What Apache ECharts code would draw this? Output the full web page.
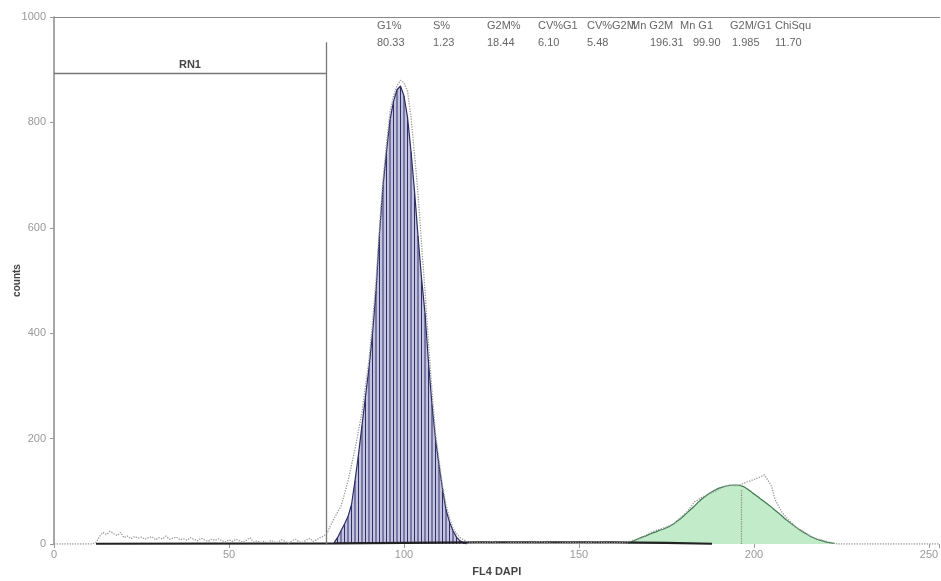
<!DOCTYPE html>
<html>
<head>
<meta charset="utf-8">
<script src="https://cdn.jsdelivr.net/npm/echarts@6/dist/echarts.min.js"></script>
<style>
  html, body { margin: 0; padding: 0; background: #fff; }
  #chart { width: 941px; height: 581px; }
</style>
</head>
<body>
<div id="chart"></div>
<script>
// ---- Data: DNA content histogram (FL4 DAPI), cell-cycle model fit ----
const xTicks = [0, 50, 100, 150, 200, 250];
const yTicks = [0, 200, 400, 600, 800, 1000];

// G1 peak fit, one value per channel starting at channel 80
const g1Start = 80;
const g1Fit = [2, 12, 25, 38, 52, 75, 120, 170, 225, 280, 335, 400, 480, 590, 680, 745,
  805, 840, 862, 869, 850, 810, 745, 670, 585, 505, 438, 345, 265, 200, 150, 105,
  65, 42, 25, 13, 6, 2, 0];

// G2/M peak fit, one value per channel starting at channel 164
const g2Start = 164;
const g2Fit = [2, 4, 7, 10, 13, 15, 18, 21, 23, 26, 28, 31, 34, 38, 43, 48, 54, 60, 66, 72,
  79, 85, 90, 95, 99, 103, 106, 108, 110, 111, 112, 112, 111, 109, 105, 100, 95, 90, 85, 80,
  75, 70, 64, 59, 53, 47, 42, 37, 32, 27, 23, 19, 15, 12, 9, 7, 5, 3, 2, 1];

// S-phase component near the baseline [channel, count]
const sPhase = [[12, 0.5], [80, 1], [100, 2], [120, 3], [140, 3], [160, 3], [175, 2], [188, 0.5]];

// Raw histogram [channel, count]
const rawCounts = [[0, 0], [11, 0], [12, 3], [13, 14], [14, 22], [15, 18], [16, 24], [17, 20], [18, 16],
  [19, 22], [20, 12], [21, 15], [22, 10], [23, 14], [24, 11], [25, 13], [26, 9], [27, 12], [28, 14],
  [29, 8], [30, 12], [31, 10], [32, 15], [33, 9], [34, 11], [35, 13], [36, 8], [37, 10], [38, 7],
  [39, 12], [40, 9], [41, 6], [42, 11], [43, 8], [44, 5], [45, 9], [46, 7], [47, 10], [48, 6],
  [49, 4], [50, 8], [51, 5], [52, 9], [53, 6], [54, 3], [55, 7], [56, 12], [57, 4], [58, 6],
  [59, 3], [60, 5], [61, 2], [62, 7], [63, 4], [64, 3], [65, 8], [66, 5], [67, 2], [68, 6],
  [69, 9], [70, 4], [71, 3], [72, 7], [73, 11], [74, 5], [75, 8], [76, 12], [77, 15], [78, 20],
  [79, 35], [80, 48], [81, 60], [82, 72], [83, 95], [84, 120], [85, 150], [86, 180], [87, 215],
  [88, 250], [89, 300], [90, 350], [91, 420], [92, 500], [93, 600], [94, 690], [95, 760],
  [96, 820], [97, 850], [98, 870], [99, 880], [100, 875], [101, 860], [102, 810], [103, 740],
  [104, 665], [105, 570], [106, 480], [107, 380], [108, 290], [109, 210], [110, 160], [111, 110],
  [112, 75], [113, 50], [114, 30], [115, 20], [116, 12], [117, 8], [118, 5], [119, 3], [120, 4],
  [122, 2], [125, 4], [128, 1], [131, 3], [135, 2], [139, 4], [143, 1], [147, 3], [151, 2],
  [155, 4], [159, 2], [162, 3], [164, 4], [166, 8], [168, 12], [170, 20], [171, 23], [173, 28],
  [175, 32], [177, 38], [179, 50], [181, 62], [183, 80], [185, 88], [187, 95], [189, 100],
  [191, 108], [193, 112], [195, 110], [197, 115], [199, 120], [201, 125], [203, 131], [205, 110],
  [206, 85], [207, 72], [208, 60], [210, 45], [212, 32], [214, 24], [216, 15], [218, 10],
  [220, 6], [222, 3], [224, 0], [253, 0]];

// Region gate RN1: x range and drawing heights
const gateName = 'RN1';
const gateRange = [0, 77.7];
const gateLevel = 894;
const gateTop = 952;

// Model statistics
const statHeaders = ['G1%', 'S%', 'G2M%', 'CV%G1', 'CV%G2M', 'Mn G2M', 'Mn G1', 'G2M/G1', 'ChiSqu'];
const statValues = ['80.33', '1.23', '18.44', '6.10', '5.48', '196.31', '99.90', '1.985', '11.70'];
const g2MeanHeight = 102;

// ---- Layout ----
const headerX = [377, 433, 487, 538, 587, 631, 680, 730, 775];
const valueX = [377, 433, 487, 538, 587, 650, 693, 732, 775];
const FONT = '"Liberation Sans", Arial, sans-serif';

const toPairs = (start, arr) => arr.map((v, i) => [start + i, v]);
const g1Data = toPairs(g1Start, g1Fit);
const g2Data = toPairs(g2Start, g2Fit);
const g2Mean = parseFloat(statValues[statHeaders.indexOf('Mn G2M')]);

const statTexts = [];
statHeaders.forEach((h, i) => {
  statTexts.push({ type: 'text', left: headerX[i], top: 20,
    style: { text: h, fill: '#666', font: '11px ' + FONT } });
  statTexts.push({ type: 'text', left: valueX[i], top: 37,
    style: { text: statValues[i], fill: '#666', font: '11px ' + FONT } });
});

const chart = echarts.init(document.getElementById('chart'));
chart.setOption({
  animation: false,
  backgroundColor: '#fff',
  grid: { left: 54, top: 17, right: 1.5, bottom: 37, containLabel: false, outerBoundsMode: 'none' },
  xAxis: [{
    type: 'value', min: 0, max: 253, interval: 50,
    name: 'FL4 DAPI', nameLocation: 'middle', nameGap: 22, nameMoveOverlap: false,
    nameTextStyle: { fontFamily: FONT, fontSize: 11, fontWeight: 'bold', color: '#444' },
    axisLine: { show: false },
    axisTick: { show: true, length: 4, lineStyle: { color: '#999' } },
    axisLabel: { color: '#999', fontFamily: FONT, fontSize: 11, margin: 5,
      formatter: v => xTicks.includes(v) ? String(v) : '' },
    splitLine: { show: false }
  }, {
    type: 'value', position: 'top', min: 0, max: 253,
    axisLine: { show: true, onZero: false, lineStyle: { color: '#888', width: 1.2 } },
    axisTick: { show: false }, axisLabel: { show: false }, splitLine: { show: false }
  }],
  yAxis: {
    type: 'value', min: 0, max: 1000, interval: 200,
    name: 'counts', nameLocation: 'middle', nameGap: 32, nameRotate: 90, nameMoveOverlap: false,
    nameTextStyle: { fontFamily: FONT, fontSize: 10, fontWeight: 'bold', color: '#444' },
    axisLine: { show: true, lineStyle: { color: '#888', width: 1.5 } },
    axisTick: { show: true, length: 4, lineStyle: { color: '#999' } },
    axisLabel: { color: '#999', fontFamily: FONT, fontSize: 11, margin: 8,
      formatter: v => yTicks.includes(v) ? String(v) : '' },
    splitLine: { show: false }
  },
  graphic: statTexts,
  series: [
    { // G1 fit area
      type: 'line', data: g1Data, symbol: 'none', z: 2,
      lineStyle: { color: '#2c2c66', width: 1.2 },
      areaStyle: { color: 'rgba(112,112,182,0.6)' }
    },
    { // G1 fit channel bars
      type: 'bar', data: g1Data, barWidth: 1, z: 3,
      itemStyle: { color: '#303068' }
    },
    { // G2/M fit area
      type: 'line', data: g2Data, symbol: 'none', z: 2,
      lineStyle: { color: '#3c7a4c', width: 1.2 },
      areaStyle: { color: '#a6e2b2' },
      markLine: {
        symbol: 'none', silent: true,
        lineStyle: { color: '#888', type: 'dotted', width: 1.2 },
        label: { show: false },
        data: [[{ coord: [g2Mean, 0] }, { coord: [g2Mean, g2MeanHeight] }]]
      }
    },
    { // S-phase component
      type: 'line', data: sPhase, symbol: 'none', z: 4,
      lineStyle: { color: '#222', width: 2.2 }
    },
    { // raw histogram
      type: 'line', data: rawCounts, symbol: 'none', z: 5,
      lineStyle: { color: '#999', width: 1.3, type: 'dotted' }
    },
    { // RN1 region gate
      type: 'line', data: [], z: 6,
      markLine: {
        symbol: 'none', silent: true,
        lineStyle: { color: '#777', type: 'solid', width: 1.3 },
        data: [
          [{ coord: [gateRange[0], gateLevel], label: { show: true, formatter: gateName, position: 'insideMiddleTop',
              color: '#444', fontFamily: FONT, fontSize: 11, fontWeight: 'bold', distance: 2 } },
           { coord: [gateRange[1], gateLevel] }],
          [{ coord: [gateRange[1], 0], label: { show: false } }, { coord: [gateRange[1], gateTop] }]
        ]
      }
    }
  ]
});
</script>
</body>
</html>
